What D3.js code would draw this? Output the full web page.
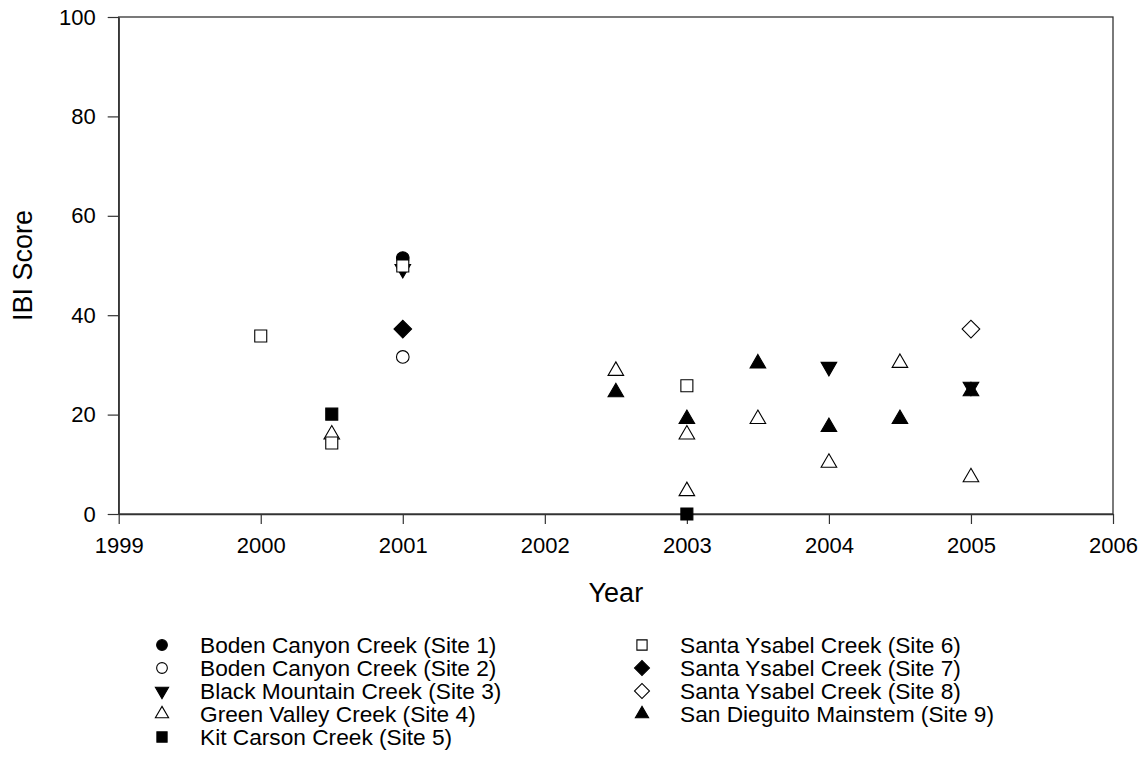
<!DOCTYPE html>
<html>
<head>
<meta charset="utf-8">
<script src="https://cdn.jsdelivr.net/npm/d3@7"></script>
<style>
  body { margin: 0; background: #fff; }
  text { font-family: "Liberation Sans", Arial, sans-serif; fill: #000; }
</style>
</head>
<body>
<svg id="chart" width="1143" height="774"></svg>
<script>
// Data: [year, IBI score]
var site1 = [[2001, 51.5]];
var site2 = [[2001, 31.6]];
var site3 = [[2001, 49.3], [2004, 29.6], [2005, 25.6]];
var site4 = [[2000.5, 16.0], [2002.5, 28.8], [2003, 16.0], [2003, 4.6],
             [2003.5, 19.1], [2004, 10.3], [2004.5, 30.4], [2005, 7.4]];
var site5 = [[2000.5, 20.1], [2003, 0]];
var site6 = [[2000, 35.8], [2000.5, 14.3], [2001, 49.9], [2003, 25.8]];
var site7 = [[2001, 37.2]];
var site8 = [[2005, 37.2]];
var site9 = [[2002.5, 24.5], [2003, 19.1], [2003.5, 30.3], [2004, 17.5],
             [2004.5, 19.1], [2005, 24.7]];

var siteNames = [
  "Boden Canyon Creek (Site 1)",
  "Boden Canyon Creek (Site 2)",
  "Black Mountain Creek (Site 3)",
  "Green Valley Creek (Site 4)",
  "Kit Carson Creek (Site 5)",
  "Santa Ysabel Creek (Site 6)",
  "Santa Ysabel Creek (Site 7)",
  "Santa Ysabel Creek (Site 8)",
  "San Dieguito Mainstem (Site 9)"
];
var siteValues = [site1, site2, site3, site4, site5, site6, site7, site8, site9];

var xTicks = [1999, 2000, 2001, 2002, 2003, 2004, 2005, 2006];
var yTicks = [0, 20, 40, 60, 80, 100];

// marker styles: shape, filled
var markers = [
  {shape: "circle", fill: true},
  {shape: "circle", fill: false},
  {shape: "down", fill: true},
  {shape: "up", fill: false},
  {shape: "square", fill: true},
  {shape: "square", fill: false},
  {shape: "diamond", fill: true},
  {shape: "diamond", fill: false},
  {shape: "up", fill: true}
];

var svg = d3.select("#chart");
var plotL = 118.7, plotR = 1113, plotT = 17, plotB = 514;

var x = d3.scaleLinear().domain([1999, 2006]).range([plotL, plotR]);
var y = d3.scaleLinear().domain([0, 100]).range([plotB, plotT]);

// frame
svg.append("rect")
    .attr("x", plotL).attr("y", plotT)
    .attr("width", plotR - plotL).attr("height", plotB - plotT)
    .attr("fill", "none")
    .attr("stroke", "#333")
    .attr("stroke-width", 1.3);

// axes
var xAxis = svg.append("g")
    .attr("transform", "translate(0," + plotB + ")")
    .call(d3.axisBottom(x).tickValues(xTicks).tickFormat(d3.format("d"))
      .tickSize(10).tickSizeOuter(0).tickPadding(13));
var yAxis = svg.append("g")
    .attr("transform", "translate(" + plotL + ",0)")
    .call(d3.axisLeft(y).tickValues(yTicks).tickSize(11).tickSizeOuter(0).tickPadding(12));

[xAxis, yAxis].forEach(function(a) {
  a.select(".domain").attr("stroke", "#333").attr("stroke-width", 1.3);
  a.selectAll(".tick line").attr("stroke", "#333").attr("stroke-width", 1.2);
  a.selectAll(".tick text").style("font-size", "22px").attr("fill", "#000");
});

svg.append("text")
    .attr("transform", "translate(32," + ((plotT + plotB) / 2) + ") rotate(-90)")
    .attr("text-anchor", "middle")
    .style("font-size", "27px")
    .text("IBI Score");

svg.append("text")
    .attr("x", (plotL + plotR) / 2)
    .attr("y", 602)
    .attr("text-anchor", "middle")
    .style("font-size", "27px")
    .text("Year");

// symbol drawing
function drawMarker(sel, m, scale) {
  var s = scale || 1;
  var path, rot = 0, size;
  if (m.shape === "circle") { path = d3.symbolCircle; size = 125 * s * s; }
  else if (m.shape === "square") { path = d3.symbolSquare; size = 144 * s * s; }
  else if (m.shape === "diamond") { path = d3.symbolSquare; size = 155 * s * s; rot = 45; }
  else if (m.shape === "up") { path = d3.symbolTriangle; size = 105 * s * s; }
  else { path = d3.symbolTriangle; size = 105 * s * s; rot = 180; }
  sel.append("path")
      .attr("d", d3.symbol().type(path).size(size))
      .attr("transform", function(d) {
        var t = d.tx !== undefined ? "translate(" + d.tx + "," + d.ty + ")"
                                   : "translate(" + x(d[0]) + "," + y(d[1]) + ")";
        return t + (rot ? " rotate(" + rot + ")" : "");
      })
      .attr("fill", m.fill ? "#000" : "#fff")
      .attr("stroke", "#000")
      .attr("stroke-width", 1.1);
}

siteValues.forEach(function(vals, i) {
  var g = svg.append("g").selectAll("g").data(vals).enter().append("g");
  drawMarker(g, markers[i]);
});

// legend
var legendRows = [645, 668, 691, 714, 737];
siteNames.forEach(function(name, i) {
  var col = i < 5 ? 0 : 1;
  var row = i < 5 ? i : i - 5;
  var sx = col === 0 ? 162 : 642;
  var tx = col === 0 ? 200 : 680;
  var cy = legendRows[row];
  var g = svg.append("g").selectAll("g").data([{tx: sx, ty: cy}]).enter().append("g");
  drawMarker(g, markers[i], 0.85);
  svg.append("text")
      .attr("x", tx)
      .attr("y", cy + 8)
      .style("font-size", "22.7px")
      .text(name);
});
</script>
</body>
</html>
